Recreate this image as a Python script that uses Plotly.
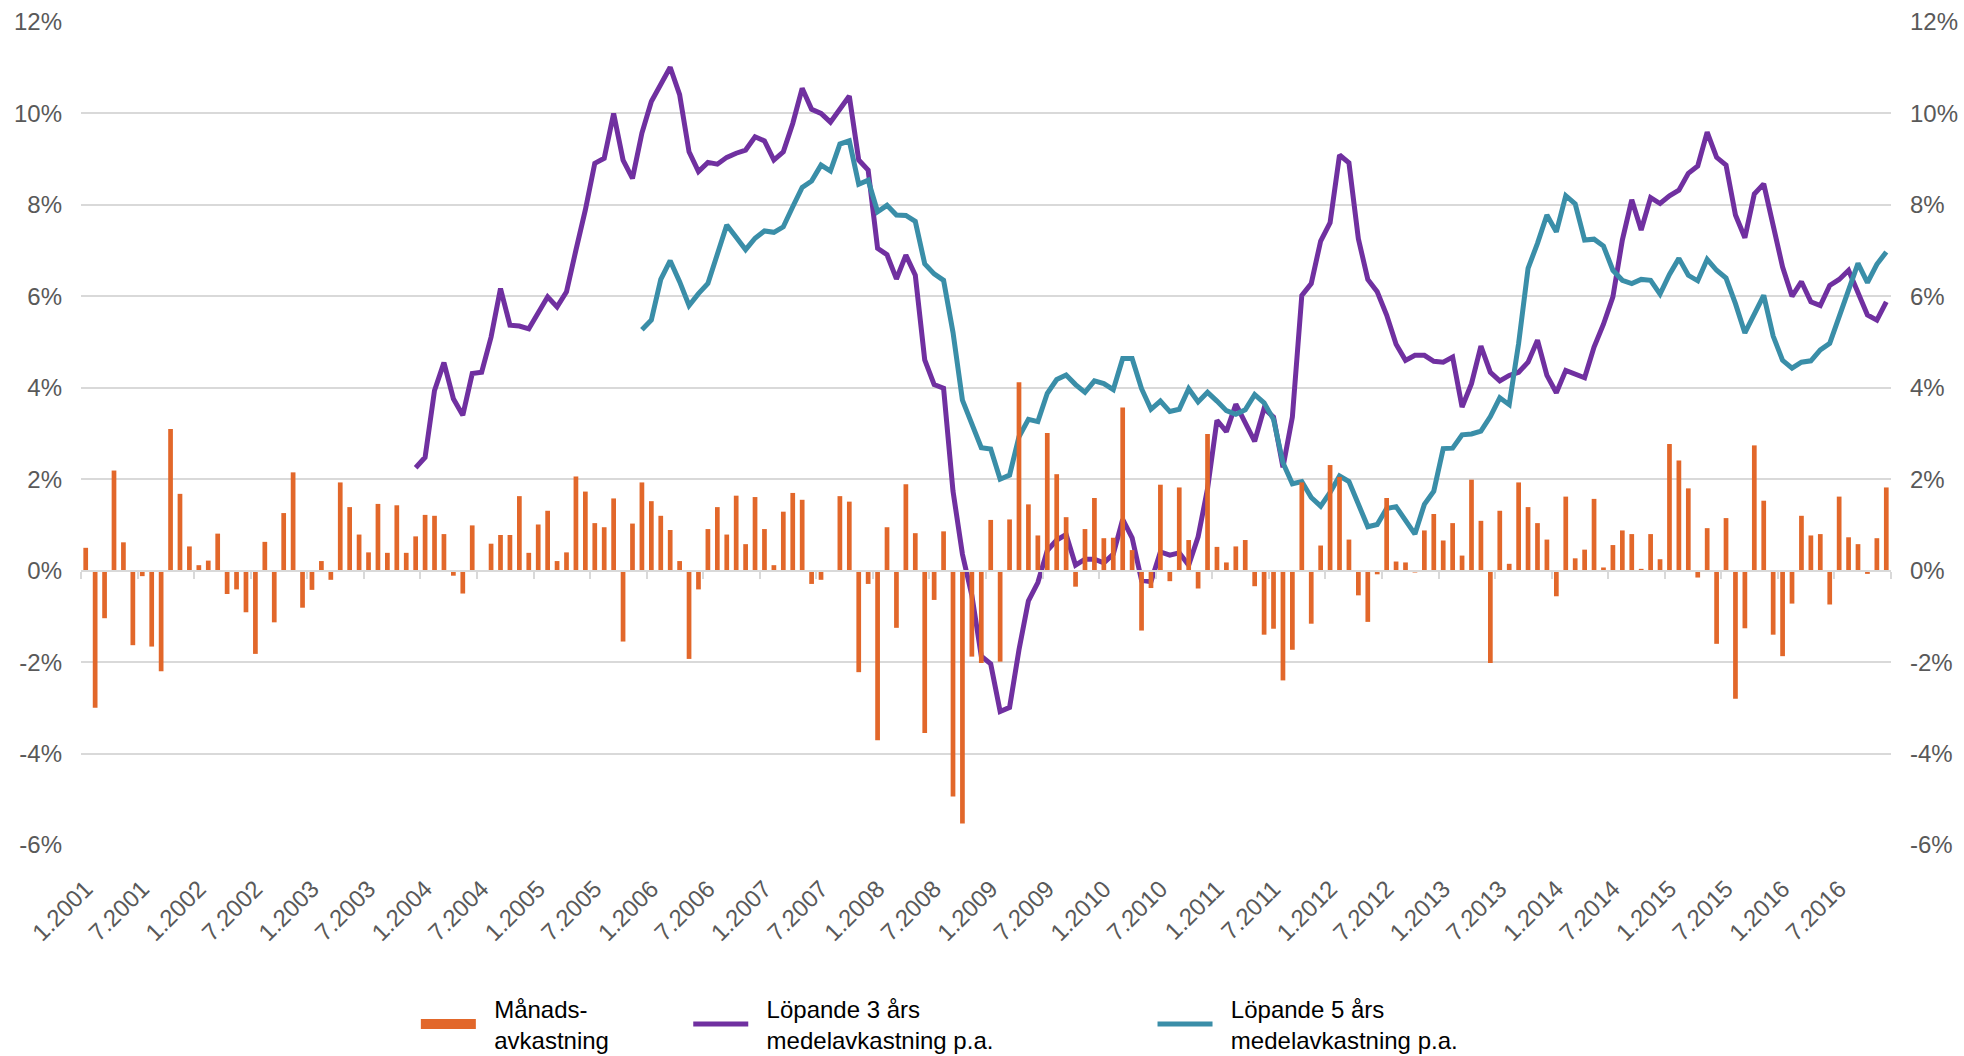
import plotly.graph_objects as go

# ---------------- data ----------------
years = list(range(2001, 2017))
months = [f"{m}.{y}" for y in years for m in range(1, 13)]   # 1.2001 ... 12.2016

monthly_return = [
    0.50, -3.00, -1.04, 2.19, 0.62, -1.63, -0.12, -1.66, -2.20, 3.10, 1.68, 0.53,
    0.12, 0.22, 0.81, -0.51, -0.41, -0.91, -1.82, 0.63, -1.13, 1.26, 2.15, -0.81,
    -0.42, 0.21, -0.20, 1.93, 1.39, 0.79, 0.40, 1.46, 0.39, 1.43, 0.39, 0.75,
    1.22, 1.20, 0.80, -0.11, -0.50, 0.99, 0.00, 0.59, 0.78, 0.78, 1.63, 0.39,
    1.01, 1.31, 0.21, 0.40, 2.06, 1.73, 1.04, 0.95, 1.58, -1.55, 1.03, 1.93,
    1.52, 1.20, 0.89, 0.21, -1.93, -0.41, 0.91, 1.39, 0.79, 1.64, 0.58, 1.61,
    0.91, 0.12, 1.29, 1.70, 1.55, -0.29, -0.20, 0.00, 1.63, 1.51, -2.22, -0.29,
    -3.71, 0.95, -1.25, 1.89, 0.82, -3.55, -0.64, 0.86, -4.94, -5.53, -1.88, -2.02,
    1.11, -1.99, 1.12, 4.12, 1.45, 0.77, 3.01, 2.11, 1.17, -0.35, 0.91, 1.59,
    0.71, 0.72, 3.57, 0.45, -1.31, -0.38, 1.88, -0.23, 1.82, 0.67, -0.39, 2.99,
    0.52, 0.18, 0.53, 0.67, -0.34, -1.40, -1.27, -2.40, -1.73, 1.93, -1.16, 0.55,
    2.31, 2.05, 0.68, -0.54, -1.12, -0.08, 1.59, 0.20, 0.18, -0.04, 0.88, 1.24,
    0.66, 1.04, 0.33, 1.99, 1.09, -2.02, 1.31, 0.15, 1.93, 1.39, 1.04, 0.68,
    -0.56, 1.62, 0.27, 0.46, 1.57, 0.07, 0.56, 0.88, 0.80, 0.04, 0.80, 0.25,
    2.77, 2.41, 1.80, -0.15, 0.93, -1.60, 1.15, -2.80, -1.26, 2.74, 1.53, -1.40,
    -1.87, -0.72, 1.20, 0.77, 0.80, -0.74, 1.62, 0.73, 0.58, -0.07, 0.71, 1.82,
]

# rolling 3-year average (starts 12.2003)
rolling_3y_start = "12.2003"
rolling_3y = [
    2.25, 2.48, 3.94, 4.55, 3.76, 3.40, 4.31, 4.34, 5.11, 6.17, 5.37, 5.35, 5.29,
    5.62, 5.99, 5.77, 6.10, 7.01, 7.89, 8.91, 9.02, 10.00, 8.98, 8.58, 9.57, 10.26,
    10.62, 11.01, 10.41, 9.16, 8.73, 8.93, 8.89, 9.04, 9.13, 9.20, 9.49, 9.40, 8.98,
    9.16, 9.78, 10.55, 10.09, 10.00, 9.81, 10.11, 10.38, 8.98, 8.76, 7.05, 6.91, 6.38,
    6.90, 6.46, 4.61, 4.07, 3.99, 1.74, 0.36, -0.54, -1.87, -2.04, -3.08, -2.99, -1.73,
    -0.66, -0.26, 0.44, 0.67, 0.79, 0.12, 0.25, 0.25, 0.17, 0.36, 1.12, 0.72, -0.21,
    -0.24, 0.41, 0.34, 0.39, 0.12, 0.74, 1.79, 3.29, 3.04, 3.64, 3.23, 2.83, 3.55,
    3.36, 2.26, 3.36, 6.02, 6.28, 7.21, 7.61, 9.09, 8.92, 7.26, 6.37, 6.10, 5.59,
    4.95, 4.60, 4.71, 4.71, 4.58, 4.56, 4.67, 3.58, 4.09, 4.91, 4.34, 4.15, 4.27,
    4.34, 4.56, 5.04, 4.27, 3.89, 4.38, 4.29, 4.22, 4.89, 5.39, 5.99, 7.23, 8.11,
    7.45, 8.16, 8.03, 8.20, 8.32, 8.69, 8.85, 9.59, 9.04, 8.87, 7.78, 7.28, 8.24,
    8.46, 7.59, 6.64, 6.00, 6.32, 5.88, 5.80, 6.24, 6.37, 6.57, 6.06, 5.59, 5.48, 5.88,
]

# rolling 5-year average (starts 12.2005)
rolling_5y_start = "12.2005"
rolling_5y = [
    5.27, 5.48, 6.37, 6.78, 6.32, 5.80, 6.06, 6.28, 6.92, 7.56, 7.29, 7.02, 7.27,
    7.43, 7.40, 7.52, 7.96, 8.38, 8.52, 8.87, 8.74, 9.33, 9.40, 8.45, 8.54, 7.85,
    7.99, 7.78, 7.77, 7.64, 6.71, 6.49, 6.35, 5.21, 3.73, 3.24, 2.69, 2.66, 2.00,
    2.09, 2.93, 3.31, 3.26, 3.88, 4.18, 4.28, 4.07, 3.90, 4.15, 4.09, 3.96, 4.64,
    4.64, 3.98, 3.53, 3.71, 3.48, 3.53, 3.98, 3.69, 3.90, 3.71, 3.50, 3.42, 3.52,
    3.85, 3.67, 3.31, 2.36, 1.90, 1.95, 1.60, 1.41, 1.71, 2.07, 1.95, 1.47, 0.96,
    1.01, 1.36, 1.40, 1.11, 0.80, 1.45, 1.74, 2.67, 2.68, 2.97, 2.99, 3.05, 3.37,
    3.78, 3.63, 4.97, 6.61, 7.16, 7.78, 7.41, 8.20, 8.02, 7.23, 7.25, 7.10, 6.57,
    6.35, 6.28, 6.37, 6.35, 6.05, 6.48, 6.83, 6.46, 6.34, 6.81, 6.57, 6.40, 5.84,
    5.20, 5.62, 6.02, 5.13, 4.60, 4.43, 4.56, 4.59, 4.83, 4.97, 5.55, 6.21, 6.72,
    6.30, 6.70, 6.97,
]

y_ticks = [-6, -4, -2, 0, 2, 4, 6, 8, 10, 12]
y_tick_labels = [f"{v}%" for v in y_ticks]

PAD = "&nbsp;&nbsp;"
names = [PAD + "Månads-<br>" + PAD + "avkastning",
         PAD + "Löpande 3 års<br>" + PAD + "medelavkastning p.a.",
         PAD + "Löpande 5 års<br>" + PAD + "medelavkastning p.a."]

# ---------------- styling ----------------
ORANGE = "#E2672A"
PURPLE = "#7030A0"
TEAL = "#3A8EA8"
GRID = "#D9D9D9"
TEXT = "#595959"
FONT = "Liberation Sans, Arial, sans-serif"

idx = list(range(len(months)))
i3 = months.index(rolling_3y_start)
i5 = months.index(rolling_5y_start)
tick_idx = idx[::6]
tick_txt = months[::6]
boundaries = [i - 0.5 for i in range(0, len(months) + 1, 6)]
xr = [-0.5, len(months) - 0.5]

fig = go.Figure()
fig.add_trace(go.Bar(x=idx, y=monthly_return, marker=dict(color=ORANGE, line_width=0),
                     width=0.5, xaxis="x2", yaxis="y", showlegend=False,
                     hoverinfo="x+y"))
# legend proxy for the bars (wide rectangle swatch); also anchors the right axis
fig.add_trace(go.Scatter(x=[None], y=[None], mode="lines", name=names[0],
                         line=dict(color=ORANGE, width=15), legend="legend",
                         xaxis="x", yaxis="y2"))
fig.add_trace(go.Scatter(x=idx[i3:], y=rolling_3y, mode="lines", name=names[1],
                         line=dict(color=PURPLE, width=5), legend="legend2",
                         xaxis="x", yaxis="y"))
fig.add_trace(go.Scatter(x=idx[i5:], y=rolling_5y, mode="lines", name=names[2],
                         line=dict(color=TEAL, width=5), legend="legend3",
                         xaxis="x", yaxis="y"))

yax = dict(range=[-6, 12], tickvals=y_ticks, ticktext=y_tick_labels,
           tickfont=dict(size=24, color=TEXT, family=FONT), zeroline=False,
           showline=False, ticks="", ticklabelstandoff=18, automargin=False)

leg = dict(orientation="h", yanchor="top", xanchor="left", yref="container",
           y=0.066, font=dict(size=24, color="#000000", family=FONT),
           bgcolor="rgba(0,0,0,0)", itemwidth=55, valign="middle")

fig.update_layout(
    width=1964, height=1056,
    margin=dict(l=81, r=73, t=22, b=211, autoexpand=False),
    paper_bgcolor="white", plot_bgcolor="white",
    font=dict(family=FONT, color=TEXT, size=24),
    bargap=0.5,
    xaxis=dict(range=xr, tickvals=tick_idx, ticktext=tick_txt, tickangle=-45,
               tickfont=dict(size=24, color=TEXT, family=FONT), showgrid=False,
               zeroline=False, showline=False, ticks="", ticklabelstandoff=24,
               anchor="y", automargin=False),
    xaxis2=dict(range=xr, overlaying="x", anchor="free", position=1/3,
                tickvals=boundaries, ticks="outside", ticklen=7, tickwidth=2,
                tickcolor=GRID, showticklabels=False, showgrid=False,
                zeroline=False, showline=True, linecolor=GRID, linewidth=2,
                automargin=False),
    yaxis=dict(**yax, side="left", showgrid=True, gridcolor=GRID, gridwidth=2),
    yaxis2=dict(**yax, side="right", overlaying="y", anchor="x", showgrid=False),
    legend=dict(leg, x=0.185),
    legend2=dict(leg, x=0.3355),
    legend3=dict(leg, x=0.592),
    showlegend=True,
)

fig.write_html("out.html", config={"displayModeBar": False},
               post_script="document.body.style.margin='0';document.body.style.overflow='hidden';")
